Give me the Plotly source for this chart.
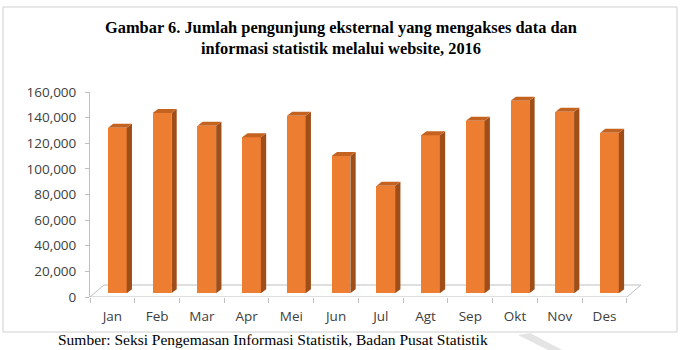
import plotly.graph_objects as go

# ---------------- data ----------------
months = ["Jan", "Feb", "Mar", "Apr", "Mei", "Jun", "Jul", "Agt", "Sep", "Okt", "Nov", "Des"]
visitors = [129300, 140700, 130800, 121700, 138600, 107200, 84000, 123300, 134700, 150300, 141700, 125400]
y_tick_vals = [0, 20000, 40000, 60000, 80000, 100000, 120000, 140000, 160000]
y_tick_text = ["0", "20,000", "40,000", "60,000", "80,000", "100,000", "120,000", "140,000", "160,000"]
title_text = ("<b>Gambar 6. Jumlah pengunjung eksternal yang mengakses data dan<br>"
              "informasi statistik melalui website, 2016</b>")
source_text = "Sumber: Seksi Pengemasan Informasi Statistik, Badan Pusat Statistik"

# ---------------- layout geometry (pixels) ----------------
W, H = 683, 350
ML, MR, MT, MB = 90, 40, 92, 53
x_range = [-0.5, 11.86]
y_range = [0, 160000]
plot_w = W - ML - MR
plot_h = H - MT - MB
px_per_cat = plot_w / (x_range[1] - x_range[0])
val_per_px = (y_range[1] - y_range[0]) / plot_h


def px_x(p):
    return p / px_per_cat


def px_y(p):
    return p * val_per_px


def paper_x(p):
    return (p - ML) / plot_w


def paper_y(p):
    return (H - MB - p) / plot_h


FRONT = "#ED7D31"
TOP = "#C4621F"
SIDE = "#9F4E19"
GRAY = "#BFBFBF"
TXT = "#404040"
TICK_FONT = "Open Sans"

bar_off = px_x(-4.4)
bar_w = px_x(18.7)
bar_base = px_y(3.7)
dep_x = px_x(5.3)
dep_y = px_y(4.0)

fig = go.Figure()
fig.add_trace(go.Bar(
    x=months, y=visitors, base=bar_base, offset=bar_off, width=bar_w,
    marker=dict(color=FRONT, line=dict(width=0)), hoverinfo="x+y",
))

shapes = []
# floor outline (3D floor)
fx, fy = px_x(14), px_y(12)
floor_lines = [
    (-0.5, 0, 11.5, 0),
    (-0.5 + fx, fy, 11.5 + fx, fy),
    (-0.5, 0, -0.5 + fx, fy),
    (11.5, 0, 11.5 + fx, fy),
]
for x0, y0, x1, y1 in floor_lines:
    shapes.append(dict(type="line", xref="x", yref="y", x0=x0, y0=y0, x1=x1, y1=y1,
                       line=dict(color=GRAY, width=1), layer="below"))

# 3D side and top faces of bars
for i, v in enumerate(visitors):
    xl = i + bar_off
    xr = xl + bar_w
    top = bar_base + v
    side_path = (f"M {xr},{bar_base} L {xr + dep_x},{bar_base + dep_y} "
                 f"L {xr + dep_x},{top + dep_y} L {xr},{top} Z")
    top_path = (f"M {xl},{top} L {xl + dep_x},{top + dep_y} "
                f"L {xr + dep_x},{top + dep_y} L {xr},{top} Z")
    shapes.append(dict(type="path", xref="x", yref="y", path=side_path,
                       fillcolor=SIDE, line=dict(width=0), layer="above"))
    shapes.append(dict(type="path", xref="x", yref="y", path=top_path,
                       fillcolor=TOP, line=dict(width=0), layer="above"))

# chart border
shapes.append(dict(type="rect", xref="paper", yref="paper",
                   x0=paper_x(3), x1=paper_x(677), y0=paper_y(332), y1=paper_y(7),
                   line=dict(color="#D0D0D0", width=1), fillcolor="rgba(0,0,0,0)"))
# faint watermark stroke
wm = [(518, 335), (530, 333), (566, 352), (552, 352)]
wm_path = "M " + " L ".join(f"{paper_x(a)},{paper_y(b)}" for a, b in wm) + " Z"
shapes.append(dict(type="path", xref="paper", yref="paper", path=wm_path,
                   fillcolor="#E4E4E4", line=dict(width=0)))

annotations = [
    dict(text=title_text, xref="paper", yref="paper", x=paper_x(341), y=paper_y(38),
         xanchor="center", yanchor="middle", showarrow=False,
         font=dict(family="Liberation Serif", size=16.4, color="#000000")),
    dict(text=source_text, xref="paper", yref="paper", x=paper_x(56), y=paper_y(339),
         xanchor="left", yanchor="middle", showarrow=False,
         font=dict(family="Liberation Serif", size=15.5, color="#000000")),
]

fig.update_layout(
    width=W, height=H,
    margin=dict(l=ML, r=MR, t=MT, b=MB, pad=0),
    paper_bgcolor="white", plot_bgcolor="white",
    showlegend=False,
    shapes=shapes, annotations=annotations,
    font=dict(family=TICK_FONT, size=13.5, color=TXT),
    xaxis=dict(type="category", range=x_range, tickson="boundaries",
               ticks="outside", ticklen=5, tickcolor=GRAY, tickwidth=1,
               ticklabelstandoff=9,
               showline=False, showgrid=False, zeroline=False,
               tickfont=dict(family=TICK_FONT, size=13.5, color=TXT), fixedrange=True),
    yaxis=dict(range=y_range, tickvals=y_tick_vals, ticktext=y_tick_text,
               ticks="outside", ticklen=4, tickcolor=GRAY,
               ticklabelstandoff=6,
               showline=True, linecolor=GRAY, linewidth=1,
               showgrid=False, zeroline=False,
               tickfont=dict(family=TICK_FONT, size=13.5, color=TXT), fixedrange=True),
    bargap=0,
)

fig.write_html("out.html")
